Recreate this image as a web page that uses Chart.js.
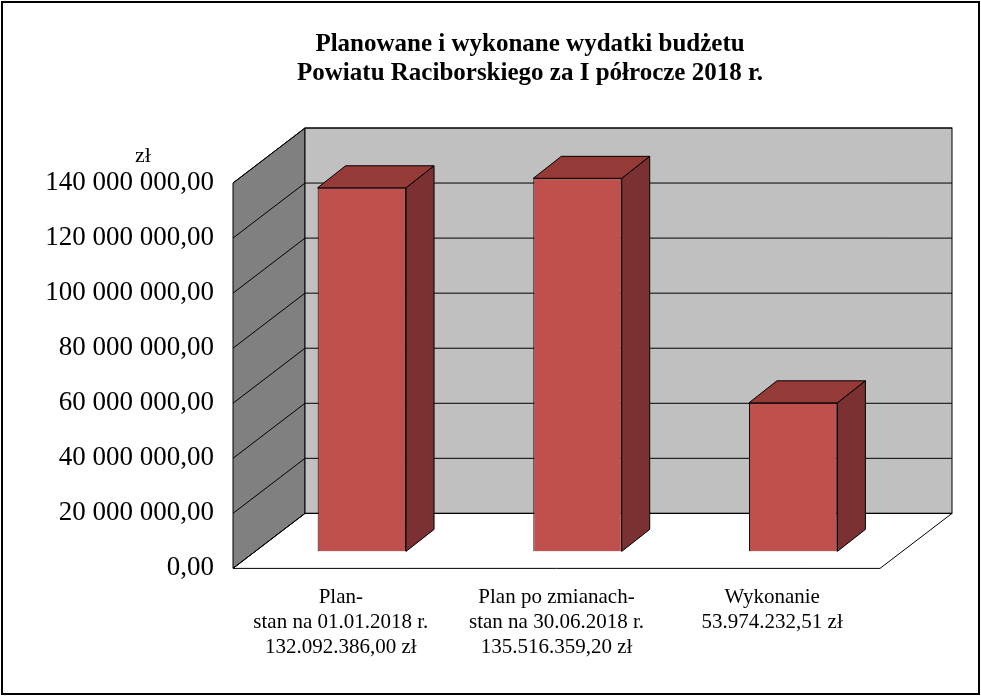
<!DOCTYPE html>
<html>
<head>
<meta charset="utf-8">
<script src="https://cdn.jsdelivr.net/npm/chart.js@4/dist/chart.umd.min.js"></script>
<style>body{margin:0;background:#fff}canvas{display:block}</style>
</head>
<body>
<canvas id="c" width="981" height="696"></canvas>
<script>
const categories = [
    ['Plan-', 'stan na 01.01.2018 r.', '132.092.386,00 zł'],
    ['Plan po zmianach-', 'stan na 30.06.2018 r.', '135.516.359,20 zł'],
    ['Wykonanie', '53.974.232,51 zł']
];
const values = [132092386.00, 135516359.20, 53974232.51];
const titleLines = ['Planowane i wykonane wydatki budżetu', 'Powiatu Raciborskiego za I półrocze 2018 r.'];

const FONT = '"Liberation Serif", "Times New Roman", serif';
const DX = 72, DY = -55;        // wall depth
const BX = 21, BY = -17;        // bar position in depth
const SX = 28, SY = -22;        // bar thickness

const fmt = v => Math.round(v).toString().replace(/\B(?=(\d{3})+(?!\d))/g, ' ') + ',00';

const walls = {
    id: 'walls',
    beforeDatasetsDraw(chart) {
        const {ctx, chartArea: a, scales: {y}} = chart;
        ctx.save();
        ctx.lineWidth = 1; ctx.strokeStyle = '#000';
        // left wall
        ctx.fillStyle = '#808080';
        ctx.beginPath();
        ctx.moveTo(a.left, a.top); ctx.lineTo(a.left + DX, a.top + DY);
        ctx.lineTo(a.left + DX, a.bottom + DY); ctx.lineTo(a.left, a.bottom);
        ctx.closePath(); ctx.fill(); ctx.stroke();
        // back wall
        ctx.fillStyle = '#c0c0c0';
        ctx.fillRect(a.left + DX, a.top + DY, a.right - a.left, a.bottom - a.top);
        ctx.strokeRect(a.left + DX, a.top + DY, a.right - a.left, a.bottom - a.top);
        // floor
        ctx.fillStyle = '#fff';
        ctx.beginPath();
        ctx.moveTo(a.left, a.bottom); ctx.lineTo(a.right, a.bottom);
        ctx.lineTo(a.right + DX, a.bottom + DY); ctx.lineTo(a.left + DX, a.bottom + DY);
        ctx.closePath(); ctx.fill(); ctx.stroke();
        // grid lines
        y.ticks.forEach(t => {
            const py = y.getPixelForValue(t.value);
            ctx.beginPath();
            ctx.moveTo(a.left, py); ctx.lineTo(a.left + DX, py + DY);
            ctx.lineTo(a.right + DX, py + DY);
            ctx.stroke();
        });
        // title and 'zł' label
        ctx.fillStyle = '#000';
        ctx.textAlign = 'center'; ctx.textBaseline = 'middle';
        ctx.font = 'bold 25px ' + FONT;
        titleLines.forEach((s, i) => ctx.fillText(s, 530, 45 + i * 29));
        ctx.font = '22px ' + FONT;
        ctx.textAlign = 'left';
        ctx.fillText('zł', 135, 156);
        // frame
        ctx.lineWidth = 2;
        ctx.strokeRect(2, 2, chart.width - 4, chart.height - 4);
        ctx.restore();
        ctx.save();
        ctx.translate(BX, BY);
    },
    afterDatasetsDraw(chart) {
        const {ctx} = chart;
        chart.getDatasetMeta(0).data.forEach(b => {
            const l = b.x - b.width / 2, r = b.x + b.width / 2, t = b.y, bot = b.base;
            ctx.lineWidth = 1; ctx.strokeStyle = '#000';
            ctx.fillStyle = '#7b3131';
            ctx.beginPath();
            ctx.moveTo(r, t); ctx.lineTo(r + SX, t + SY); ctx.lineTo(r + SX, bot + SY); ctx.lineTo(r, bot);
            ctx.closePath(); ctx.fill(); ctx.stroke();
            ctx.fillStyle = '#963a38';
            ctx.beginPath();
            ctx.moveTo(l, t); ctx.lineTo(l + SX, t + SY); ctx.lineTo(r + SX, t + SY); ctx.lineTo(r, t);
            ctx.closePath(); ctx.fill(); ctx.stroke();
        });
        ctx.restore();
    }
};

new Chart(document.getElementById('c'), {
    type: 'bar',
    data: {labels: categories, datasets: [{
        data: values, backgroundColor: '#c0504d', borderColor: '#000', borderWidth: 1,
        barPercentage: 0.41, categoryPercentage: 1
    }]},
    options: {
        responsive: false, animation: false,
        layout: {padding: {left: 0, right: 101, top: 183, bottom: 28}},
        plugins: {legend: {display: false}, tooltip: {enabled: false}, title: {display: false}},
        scales: {
            y: {min: 0, max: 140000000,
                ticks: {stepSize: 20000000, callback: v => fmt(v), color: '#000', padding: 11,
                    font: {family: FONT, size: 27}},
                grid: {display: false}, border: {display: false},
                afterFit: s => { s.width = 233; }},
            x: {ticks: {color: '#000', font: {family: FONT, size: 21, lineHeight: 1.2}, padding: 8, maxRotation: 0},
                grid: {display: false}, border: {display: false}}
        }
    },
    plugins: [walls]
});
</script>
</body>
</html>
